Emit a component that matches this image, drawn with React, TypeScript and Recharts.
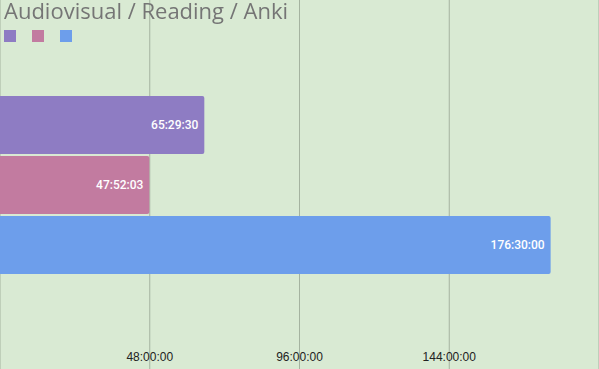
import React from "react";
import { Bar, BarChart, CartesianGrid, LabelList, XAxis, YAxis } from "recharts";

const categories = ["Total"];
const seriesNames = ["Audiovisual", "Reading", "Anki"];
const seriesColors = ["#8e7cc3", "#c27ba0", "#6d9eeb"];
// durations in seconds
const audiovisual = [235770];
const reading = [172323];
const anki = [635400];
const tickHours = [0, 48, 96, 144, 192];

const data = categories.map((c, i) => ({
  name: c,
  Audiovisual: audiovisual[i],
  Reading: reading[i],
  Anki: anki[i],
}));

const pad = (n: number) => String(n).padStart(2, "0");
const fmt = (sec: number) => {
  const h = Math.floor(sec / 3600);
  const m = Math.floor((sec % 3600) / 60);
  const s = Math.round(sec % 60);
  return `${h}:${pad(m)}:${pad(s)}`;
};

const renderTick = (props: any) => {
  const { x, payload } = props;
  const v = payload.value;
  if (v === 0 || v === 192 * 3600) return <g />;
  return (
    <text x={x} y={361} textAnchor="middle" fill="#222" fontSize={12} fontFamily="Liberation Sans, Arial">
      {fmt(v)}
    </text>
  );
};

export default function App() {
  return (
    <div style={{ position: "fixed", left: 0, top: 0, width: 599, height: 369, background: "#d9ead3" }}>
      <BarChart
        width={599}
        height={369}
        data={data}
        layout="vertical"
        margin={{ top: 0, right: 0, bottom: 0, left: 0 }}
        barGap={2}
      >
        <CartesianGrid horizontal={false} stroke="#a5b3a0" />
        <XAxis
          type="number"
          domain={[0, 192 * 3600]}
          ticks={tickHours.map((h) => h * 3600)}
          mirror
          axisLine={false}
          tickLine={false}
          tick={renderTick}
          interval={0}
        />
        <YAxis type="category" dataKey="name" hide />
        {seriesNames.map((n, i) => (
          <Bar key={n} dataKey={n} fill={seriesColors[i]} barSize={58} radius={[0, 2, 2, 0]} isAnimationActive={false}>
            <LabelList
              dataKey={n}
              position="insideRight"
              offset={6}
              formatter={(v: any) => fmt(Number(v))}
              fill="#fff"
              fontSize={12}
              fontWeight={500}
              fontFamily="Roboto"
            />
          </Bar>
        ))}
      </BarChart>
      <div
        style={{
          position: "absolute",
          left: 4,
          top: 0,
          fontFamily: "Open Sans",
          fontSize: 22,
          lineHeight: "20px",
          color: "#757575",
          whiteSpace: "nowrap",
        }}
      >
        Audiovisual / Reading / Anki
      </div>
      <div style={{ position: "absolute", left: 4, top: 30, display: "flex", gap: 16 }}>
        {seriesNames.map((n, i) => (
          <div key={n} style={{ width: 12, height: 12, background: seriesColors[i] }} />
        ))}
      </div>
    </div>
  );
}
